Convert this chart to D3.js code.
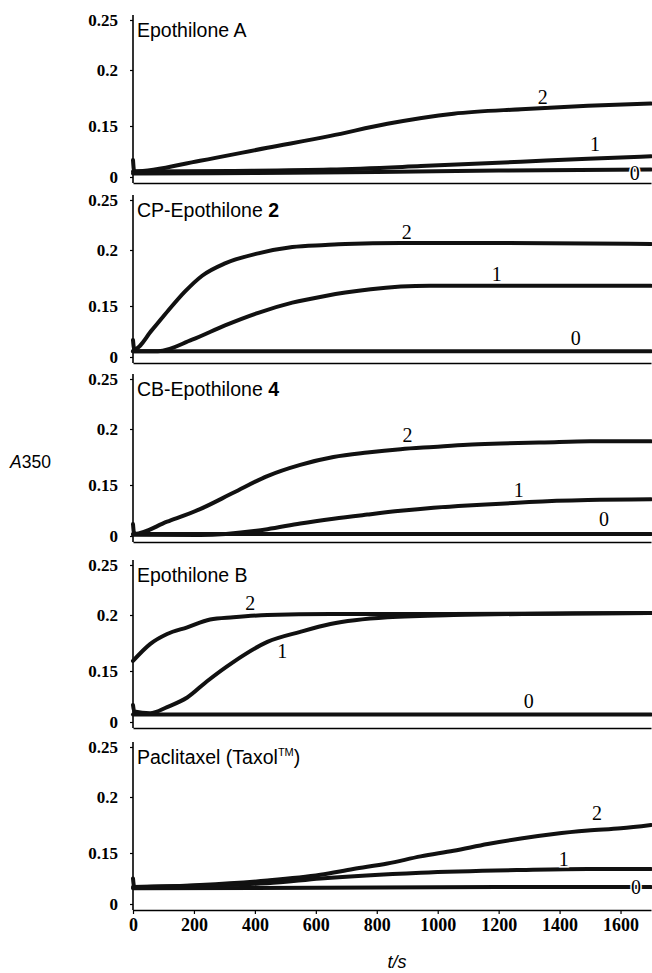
<!DOCTYPE html>
<html>
<head>
<meta charset="utf-8">
<script src="https://cdn.jsdelivr.net/npm/d3@7/dist/d3.min.js"></script>
<style>
body { margin: 0; background: #fff; overflow: hidden; }
svg { display: block; }
</style>
</head>
<body>
<div id="chart"></div>
<script>
// tick values and labels
var xTicks = [0, 200, 400, 600, 800, 1000, 1200, 1400, 1600];
var yTicks = [0, 0.15, 0.2, 0.25];
var panelTitles = ["Epothilone A", "CP-Epothilone 2", "CB-Epothilone 4", "Epothilone B", "Paclitaxel (Taxol\u2122)"];

// A350 traces, [t (s), A350]; curves "2", "1", "0" per panel
var epoA2 = [[0,0.05],[4,0.016],[220,0.048],[441,0.086],[648,0.121],[835,0.152],[1052,0.161],[1273,0.165],[1493,0.168],[1700,0.170]];
var epoA1 = [[0,0.016],[320,0.018],[648,0.022],[945,0.032],[1273,0.045],[1493,0.054],[1700,0.061]];
var epoA0 = [[0,0.010],[400,0.012],[800,0.015],[1200,0.019],[1700,0.022]];

var cp2 = [[0,0.05],[4,0.023],[62,0.079],[115,0.136],[171,0.163],[227,0.177],[302,0.188],[411,0.197],[523,0.203],[631,0.205],[697,0.206],[878,0.207],[1207,0.207],[1700,0.206]];
var cp1 = [[0,0.017],[82,0.017],[194,0.051],[302,0.093],[411,0.130],[523,0.153],[631,0.159],[697,0.162],[780,0.165],[975,0.168],[1700,0.168]];
var cp0 = [[0,0.017],[850,0.017],[1700,0.017]];

var cb2 = [[0,0.035],[4,0.006],[112,0.042],[220,0.079],[329,0.127],[441,0.158],[549,0.168],[658,0.175],[769,0.179],[878,0.182],[986,0.184],[1098,0.186],[1207,0.187],[1350,0.188],[1500,0.189],[1700,0.189]];
var cb1 = [[0,0.004],[220,0.003],[441,0.020],[549,0.037],[658,0.051],[769,0.063],[878,0.074],[986,0.083],[1098,0.090],[1207,0.095],[1300,0.100],[1493,0.106],[1700,0.108]];
var cb0 = [[0,0.006],[850,0.006],[1700,0.006]];

var epoB2 = [[0,0.159],[56,0.174],[112,0.183],[178,0.189],[253,0.196],[329,0.198],[441,0.200],[648,0.201],[1042,0.201],[1700,0.202]];
var epoB1 = [[0,0.05],[4,0.031],[56,0.026],[112,0.044],[178,0.072],[243,0.120],[329,0.158],[441,0.176],[549,0.185],[648,0.192],[835,0.198],[1052,0.200],[1700,0.202]];
var epoB0 = [[0,0.022],[850,0.022],[1700,0.022]];

var pac2 = [[0,0.075],[4,0.050],[220,0.056],[441,0.069],[615,0.086],[723,0.103],[835,0.119],[944,0.140],[1052,0.152],[1164,0.158],[1273,0.163],[1381,0.167],[1493,0.170],[1601,0.172],[1700,0.175]];
var pac1 = [[0,0.050],[441,0.061],[615,0.075],[944,0.092],[1273,0.100],[1493,0.103],[1700,0.103]];
var pac0 = [[0,0.046],[600,0.048],[1200,0.050],[1700,0.050]];

// curve labels [t, A350, text]
var labA = [[1345,0.176,"2"],[1516,0.096,"1"],[1647,0.013,"0"]];
var labCP = [[898,0.218,"2"],[1194,0.179,"1"],[1453,0.057,"0"]];
var labCB = [[901,0.195,"2"],[1266,0.136,"1"],[1546,0.051,"0"]];
var labB = [[385,0.212,"2"],[490,0.168,"1"],[1299,0.061,"0"]];
var labPac = [[1523,0.186,"2"],[1414,0.133,"1"],[1651,0.050,"0"]];

var panelSeries = [[epoA2, epoA1, epoA0], [cp2, cp1, cp0], [cb2, cb1, cb0], [epoB2, epoB1, epoB0], [pac2, pac1, pac0]];
var panelLabels = [labA, labCP, labCB, labB, labPac];

// layout
var svgwidth = 652;
var svgheight = 973;
var panelTop = [20, 200, 379, 565, 747];
var axisLeftX = 133;
var serif = "'Liberation Serif', 'Times New Roman', serif";
var sans = "'Liberation Sans', Arial, Helvetica, sans-serif";

var svg = d3.select("#chart").append("svg")
    .attr("width", svgwidth)
    .attr("height", svgheight)
    .style("background", "#fff");

var xScale = d3.scaleLinear().domain([0, 1700]).range([axisLeftX, 651]);

panelTitles.forEach(function(title, i) {
    var top = panelTop[i];
    var base = top + 163;
    var last = i === panelTitles.length - 1;
    // broken A350 axis: 0 sits just under 0.15
    var yScale = d3.scaleLinear()
        .domain([0, 0.15, 0.2, 0.25])
        .range([top + 157, top + 106, top + 50, top]);

    var g = svg.append("g");

    // y axis
    var leftAxis = d3.axisLeft(yScale)
        .tickValues(yTicks)
        .tickSize(3)
        .tickPadding(12)
        .tickFormat(function(d) { return d === 0 ? "0" : String(d); });
    var ya = g.append("g").attr("transform", "translate(" + axisLeftX + ",0)").call(leftAxis);
    ya.select(".domain").remove();
    ya.selectAll("line").attr("stroke", "#000").attr("stroke-width", 1.2);
    ya.selectAll("text")
        .attr("font-family", serif)
        .attr("font-weight", "bold")
        .attr("font-size", 17)
        .attr("fill", "#000");

    g.append("line")
        .attr("x1", axisLeftX).attr("x2", axisLeftX)
        .attr("y1", top - 5).attr("y2", base)
        .attr("stroke", "#000").attr("stroke-width", 1.6);

    // x axis line (labels only on the last panel)
    var bottomAxis = d3.axisBottom(xScale)
        .tickValues(xTicks)
        .tickSize(last ? 4 : 0)
        .tickSizeOuter(0)
        .tickPadding(4)
        .tickFormat(last ? d3.format("d") : "");
    var xa = g.append("g").attr("transform", "translate(0," + base + ")").call(bottomAxis);
    xa.select(".domain").attr("stroke", "#000").attr("stroke-width", 1.6);
    xa.selectAll("line").attr("stroke", "#000").attr("stroke-width", 1.2);
    xa.selectAll("text")
        .attr("font-family", serif)
        .attr("font-weight", "bold")
        .attr("font-size", 18)
        .attr("fill", "#000");

    // title
    var t = g.append("text")
        .attr("x", 137)
        .attr("y", top + 17)
        .attr("font-family", sans)
        .attr("font-size", 19.5)
        .attr("fill", "#000");
    var m = title.match(/^(.*) ([24])$/);
    if (m) {
        t.append("tspan").text(m[1] + " ");
        t.append("tspan").attr("font-weight", "bold").text(m[2]);
    } else if (title.indexOf("\u2122") >= 0) {
        var parts = title.split("\u2122");
        t.append("tspan").text(parts[0]);
        t.append("tspan").attr("font-size", 11).attr("dy", -8).text("TM");
        t.append("tspan").attr("dy", 8).text(parts[1]);
    } else {
        t.text(title);
    }

    // traces
    var line = d3.line()
        .x(function(d) { return xScale(d[0]); })
        .y(function(d) { return yScale(d[1]); })
        .curve(d3.curveMonotoneX);

    g.selectAll("path.trace")
        .data(panelSeries[i])
        .enter()
        .append("path")
        .attr("class", "trace")
        .attr("d", line)
        .attr("fill", "none")
        .attr("stroke", "#111")
        .attr("stroke-width", 4)
        .attr("stroke-linejoin", "round")
        .attr("stroke-linecap", "round");

    g.selectAll("text.curve-label")
        .data(panelLabels[i])
        .enter()
        .append("text")
        .attr("class", "curve-label")
        .attr("x", function(d) { return xScale(d[0]); })
        .attr("y", function(d) { return yScale(d[1]); })
        .attr("dy", "0.35em")
        .attr("text-anchor", "middle")
        .attr("font-family", serif)
        .attr("font-size", 20)
        .attr("fill", "#000")
        .attr("stroke", "#fff")
        .attr("stroke-width", 3)
        .attr("paint-order", "stroke")
        .text(function(d) { return d[2]; });
});

// axis titles
var yl = svg.append("text")
    .attr("x", 10)
    .attr("y", 468)
    .attr("font-family", sans)
    .attr("font-size", 17.5)
    .attr("fill", "#000");
yl.append("tspan").attr("font-style", "italic").text("A");
yl.append("tspan").text("350");

svg.append("text")
    .attr("x", 397)
    .attr("y", 968)
    .attr("text-anchor", "middle")
    .attr("font-family", sans)
    .attr("font-style", "italic")
    .attr("font-size", 18)
    .attr("fill", "#000")
    .text("t/s");
</script>
</body>
</html>
